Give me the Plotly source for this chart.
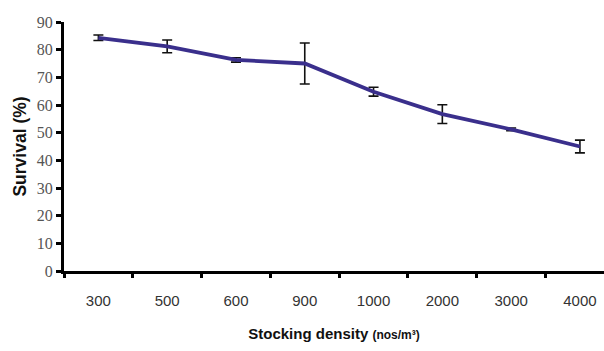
import plotly.graph_objects as go

categories = ["300", "500", "600", "900", "1000", "2000", "3000", "4000"]
survival = [84.3, 81.2, 76.3, 75.0, 64.8, 56.7, 51.2, 45.0]
error = [1.0, 2.3, 0.8, 7.4, 1.6, 3.4, 0.5, 2.3]
y_ticks = [0, 10, 20, 30, 40, 50, 60, 70, 80, 90]

x_pos = list(range(len(categories)))
SANS = "Liberation Sans, Arial, sans-serif"

fig = go.Figure()
fig.add_trace(go.Scatter(
    x=x_pos, y=survival,
    mode="lines",
    line=dict(color="#3a2f8c", width=3.8),
    error_y=dict(type="data", array=error, visible=True,
                 color="#111111", thickness=1.6, width=5),
    showlegend=False,
))

fig.update_layout(
    width=604, height=351,
    margin=dict(l=64, r=0, t=22, b=80),
    paper_bgcolor="white", plot_bgcolor="white",
    xaxis=dict(
        range=[-0.5, 7.35],
        tickmode="array", tickvals=x_pos, ticktext=categories,
        showgrid=False, zeroline=False,
        showline=True, linecolor="black", linewidth=3,
        ticks="", ticklabelstandoff=14,
        tickfont=dict(family=SANS, size=15, color="#333333"),
        title=dict(
            text="<b>Stocking density</b> <b><span style='font-size:12px'>(nos/m³)</span></b>",
            font=dict(family=SANS, size=15, color="#111111"),
            standoff=21,
        ),
        automargin=False,
        fixedrange=True,
    ),
    xaxis2=dict(
        overlaying="x", range=[-0.5, 7.35],
        tickmode="array", tickvals=[i - 0.5 for i in range(len(categories) + 1)],
        showticklabels=False, ticks="outside", ticklen=6, tickwidth=2.5, tickcolor="black",
        showgrid=False, zeroline=False, side="bottom", anchor="y",
    ),
    yaxis=dict(
        range=[0, 90],
        tickmode="array", tickvals=y_ticks,
        showgrid=False, zeroline=False,
        showline=True, linecolor="black", linewidth=3,
        ticks="outside", ticklen=5, tickwidth=2.5, tickcolor="black",
        tickfont=dict(family="Liberation Serif, Times New Roman, serif", size=16, color="#555555"),
        title=dict(text="<b>Survival (%)</b>",
                   font=dict(family=SANS, size=17.5, color="#111111"),
                   standoff=6),
        automargin=False,
    ),
)
fig.add_trace(go.Scatter(x=[0], y=[0], xaxis="x2", mode="markers",
                         marker=dict(opacity=0), showlegend=False, hoverinfo="skip"))

fig.write_html("out.html")
